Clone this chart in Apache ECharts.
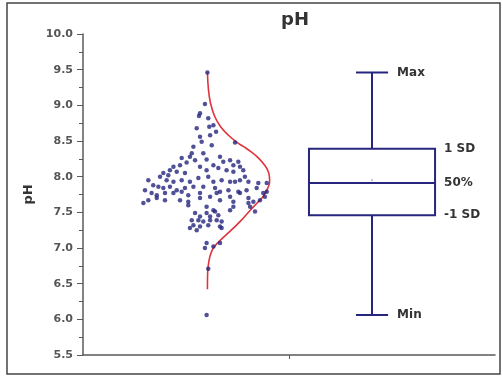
<!DOCTYPE html>
<html>
<head>
<meta charset="utf-8">
<script src="https://cdn.jsdelivr.net/npm/echarts@6/dist/echarts.min.js"></script>
<style>
  html, body { margin: 0; padding: 0; background: #fff; }
  #chart { width: 503px; height: 377px; }
</style>
</head>
<body>
<div id="chart"></div>
<script>
// pH samples: [x jitter, pH]
const phPoints = [
  [0.604, 9.46], [0.592, 9.02], [0.568, 8.89], [0.563, 8.85], [0.608, 8.82],
  [0.633, 8.72], [0.613, 8.70], [0.552, 8.68], [0.568, 8.56], [0.617, 8.58],
  [0.646, 8.63], [0.576, 8.49], [0.625, 8.44], [0.738, 8.48], [0.536, 8.42],
  [0.528, 8.33], [0.584, 8.33], [0.519, 8.28], [0.479, 8.26], [0.503, 8.20],
  [0.544, 8.23], [0.600, 8.24], [0.665, 8.28], [0.681, 8.21], [0.714, 8.23],
  [0.730, 8.16], [0.754, 8.21], [0.762, 8.14], [0.471, 8.16], [0.439, 8.14],
  [0.422, 8.09], [0.455, 8.07], [0.495, 8.05], [0.568, 8.14], [0.600, 8.09],
  [0.633, 8.16], [0.657, 8.12], [0.697, 8.09], [0.730, 8.07], [0.778, 8.09],
  [0.786, 8.00], [0.390, 8.05], [0.414, 8.02], [0.374, 8.00], [0.406, 7.95],
  [0.439, 7.93], [0.479, 7.95], [0.519, 7.93], [0.560, 7.98], [0.608, 8.00],
  [0.633, 7.93], [0.673, 7.95], [0.714, 7.93], [0.738, 7.93], [0.762, 7.95],
  [0.803, 7.93], [0.851, 7.91], [0.892, 7.91], [0.317, 7.95], [0.341, 7.88],
  [0.366, 7.86], [0.390, 7.84], [0.422, 7.86], [0.455, 7.81], [0.495, 7.84],
  [0.536, 7.86], [0.584, 7.86], [0.641, 7.84], [0.665, 7.79], [0.706, 7.81],
  [0.754, 7.79], [0.794, 7.81], [0.843, 7.84], [0.892, 7.79], [0.301, 7.81],
  [0.333, 7.77], [0.358, 7.74], [0.398, 7.77], [0.439, 7.77], [0.479, 7.79],
  [0.511, 7.74], [0.568, 7.77], [0.617, 7.72], [0.649, 7.77], [0.714, 7.72],
  [0.762, 7.77], [0.803, 7.70], [0.875, 7.77], [0.883, 7.72], [0.293, 7.63],
  [0.317, 7.67], [0.358, 7.70], [0.398, 7.67], [0.471, 7.67], [0.511, 7.65],
  [0.568, 7.70], [0.665, 7.67], [0.730, 7.65], [0.827, 7.65], [0.859, 7.67],
  [0.803, 7.63], [0.511, 7.60], [0.600, 7.58], [0.633, 7.53], [0.714, 7.53],
  [0.730, 7.58], [0.811, 7.58], [0.835, 7.51], [0.544, 7.49], [0.568, 7.44],
  [0.600, 7.49], [0.617, 7.44], [0.641, 7.51], [0.657, 7.46], [0.528, 7.39],
  [0.560, 7.39], [0.584, 7.37], [0.617, 7.39], [0.649, 7.39], [0.673, 7.37],
  [0.536, 7.32], [0.568, 7.30], [0.608, 7.32], [0.665, 7.30], [0.519, 7.28],
  [0.552, 7.25], [0.673, 7.28], [0.600, 7.07], [0.592, 7.00], [0.665, 7.07],
  [0.633, 7.02], [0.608, 6.71], [0.600, 6.06]
]

// normal distribution curve: [x, pH]
const curvePoints = [
  [0.604, 6.42], [0.605, 6.65], [0.612, 6.83], [0.624, 6.95], [0.641, 7.03],
  [0.671, 7.12], [0.712, 7.23], [0.762, 7.37], [0.812, 7.53], [0.845, 7.63],
  [0.874, 7.72], [0.897, 7.84], [0.906, 7.93], [0.902, 8.05], [0.882, 8.16],
  [0.852, 8.26], [0.815, 8.35], [0.780, 8.42], [0.748, 8.48], [0.706, 8.58],
  [0.668, 8.70], [0.640, 8.84], [0.619, 9.03], [0.609, 9.22], [0.604, 9.46]
]

// box: [x, min, -1 SD, median, 1 SD, max, mean]
const boxStats = [[1.403, 6.06, 7.46, 7.91, 8.39, 9.46, 7.95]]
const boxLabels = ['Min', '-1 SD', '50%', '1 SD', 'Max']

const yMin = 5.5
const yMax = 10.0
const yStep = 0.5

const NAVY = '#26267e'
const AXIS = '#5a5a5a'
const FONT = 'DejaVu Sans'

function renderBox(params, api) {
  const x = api.value(0)
  const halfBox = 0.306
  const halfCap = 0.078
  const p = (dx, v) => api.coord([x + dx, v])
  const vMin = api.value(1), q1 = api.value(2), med = api.value(3)
  const q3 = api.value(4), vMax = api.value(5), mean = api.value(6)

  const [xl, yq3] = p(-halfBox, q3)
  const [xr, yq1] = p(halfBox, q1)
  const [, ymed] = p(0, med)
  const [xc, ymax] = p(0, vMax)
  const [, ymin] = p(0, vMin)
  const [cl] = p(-halfCap, vMax)
  const [cr] = p(halfCap, vMax)
  const [, ymean] = p(0, mean)

  const ls = { stroke: NAVY, lineWidth: 2, fill: null }
  const line = (x1, y1, x2, y2) => ({ type: 'line', shape: { x1, y1, x2, y2 }, style: ls })
  const label = (text, tx, ty) => ({
    type: 'text',
    style: {
      text, x: tx, y: ty, fill: '#333',
      font: 'bold 12px "' + FONT + '"',
      align: 'left', verticalAlign: 'middle'
    }
  })

  return {
    type: 'group',
    children: [
      line(xc, ymax, xc, yq3),
      line(xc, yq1, xc, ymin),
      line(cl, ymax, cr, ymax),
      line(cl, ymin, cr, ymin),
      { type: 'rect', shape: { x: xl, y: yq3, width: xr - xl, height: yq1 - yq3 },
        style: { stroke: NAVY, lineWidth: 2, fill: '#fff' } },
      line(xl, ymed, xr, ymed),
      { type: 'circle', shape: { cx: xc, cy: ymean, r: 1 }, style: { fill: '#b0b0c8' } },
      label(boxLabels[4], cr + 9, ymax),
      label(boxLabels[3], xr + 9, yq3),
      label(boxLabels[2], xr + 9, ymed),
      label(boxLabels[1], xr + 9, yq1),
      label(boxLabels[0], cr + 9, ymin)
    ]
  }
}

const chart = echarts.init(document.getElementById('chart'), null, { renderer: 'canvas' })

chart.setOption({
  animation: false,
  backgroundColor: '#fff',
  textStyle: { fontFamily: FONT },
  title: {
    text: 'pH',
    left: 290,
    textAlign: 'center',
    top: 6,
    textStyle: { fontSize: 18, fontWeight: 'bold', color: '#333', fontFamily: FONT }
  },
  graphic: [{
    type: 'rect',
    shape: { x: 7, y: 3, width: 493, height: 371 },
    style: { fill: null, stroke: '#444', lineWidth: 1.5 },
    silent: true
  }],
  grid: { left: 83, right: 8, top: 34, bottom: 22 },
  xAxis: {
    type: 'value',
    min: 0,
    max: 2,
    axisLine: { lineStyle: { color: AXIS, width: 1.5 } },
    axisTick: { show: true, customValues: [1], length: 4, lineStyle: { color: AXIS } },
    axisLabel: { show: false },
    splitLine: { show: false }
  },
  yAxis: {
    type: 'value',
    min: yMin,
    max: yMax,
    interval: yStep,
    name: 'pH',
    nameLocation: 'middle',
    nameGap: 46,
    nameTextStyle: { fontSize: 13, fontWeight: 'bold', color: '#333', fontFamily: FONT },
    axisLine: { show: true, lineStyle: { color: AXIS, width: 1.5 } },
    axisTick: { show: true, length: 6, lineStyle: { color: AXIS } },
    minorTick: { show: true, splitNumber: 2, length: 4, lineStyle: { color: AXIS } },
    axisLabel: {
      margin: 10,
      color: '#555',
      fontSize: 11,
      fontWeight: 'bold',
      fontFamily: FONT,
      formatter: (v) => v.toFixed(1)
    },
    splitLine: { show: false }
  },
  series: [
    {
      name: 'pH',
      type: 'scatter',
      data: phPoints,
      symbol: 'circle',
      symbolSize: 4.5,
      itemStyle: { color: NAVY }
    },
    {
      name: 'Normal',
      type: 'line',
      data: curvePoints,
      smooth: 0.4,
      showSymbol: false,
      lineStyle: { color: '#e0343c', width: 1.6 },
      z: 1
    },
    {
      name: 'Box',
      type: 'custom',
      data: boxStats,
      encode: { x: 0, y: [1, 2, 3, 4, 5] },
      renderItem: renderBox
    }
  ]
})
</script>
</body>
</html>
